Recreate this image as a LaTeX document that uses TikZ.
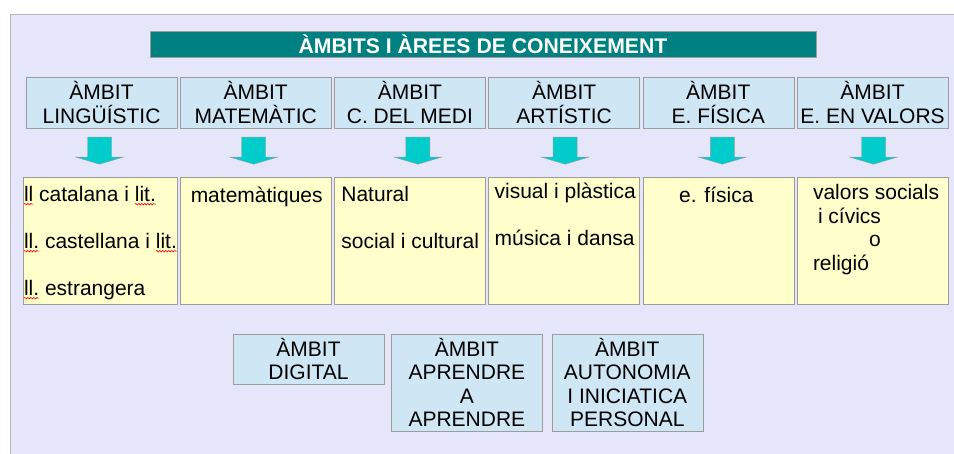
\documentclass[tikz,border=0pt]{standalone}
\usepackage{fontspec}
\setmainfont{Liberation Sans}
\usepackage{tikz}
\usetikzlibrary{shapes,arrows,positioning,decorations.pathmorphing}

\definecolor{panel}{HTML}{E6E6FA}
\definecolor{ambitblue}{HTML}{CFE6F4}
\definecolor{areayellow}{HTML}{FFFFCC}
\definecolor{titleteal}{HTML}{008080}
\definecolor{arrowcyan}{HTML}{00CCCC}
\definecolor{boxgrey}{HTML}{9C9C9C}

\newsavebox{\spellbox}
\newlength{\spellwd}
\newcommand{\spell}[1]{%
  \sbox{\spellbox}{#1}\setlength{\spellwd}{\wd\spellbox}%
  \rlap{\tikz[overlay]\draw[red, line width=.6pt, decorate, decoration={snake, amplitude=.8pt, segment length=3pt}] (0pt,-3pt) -- (\spellwd,-3pt);}%
  \usebox{\spellbox}}

\begin{document}
\begin{tikzpicture}[
    x=1pt, y=-1pt,
    titlebar/.style={rectangle, draw=boxgrey, fill=titleteal, text=white, font=\bfseries\fontsize{21.2}{24}\selectfont, minimum width=666pt, minimum height=26pt, inner sep=0pt},
    ambit/.style={rectangle, draw=boxgrey, fill=ambitblue, minimum width=151pt, minimum height=51pt, align=center, inner sep=0pt, font=\fontsize{21}{23.5}\selectfont},
    area/.style={rectangle, draw=boxgrey, fill=areayellow, minimum width=151pt, minimum height=127pt, inner sep=0pt},
    txt/.style={inner sep=0pt, align=left, anchor=base west, font=\fontsize{21}{23.5}\selectfont},
    downarrow/.pic={\draw[draw=boxgrey, fill=arrowcyan] (-12,0) -- (12,0) -- (12,20) -- (23.5,20) -- (0,27) -- (-23.5,20) -- (-12,20) -- cycle;}
]
    \useasboundingbox (0,0) rectangle (954,454);
    \draw[draw=gray!55, fill=panel] (10,14) rectangle (980,480);

    \node[titlebar] (title) at (483,44) {ÀMBITS I ÀREES DE CONEIXEMENT};

    \node[ambit] (ling) at (101.5,102.5) {ÀMBIT\\LINGÜÍSTIC};
    \node[ambit, right=2.8pt of ling] (mat) {ÀMBIT\\MATEMÀTIC};
    \node[ambit, right=2.8pt of mat] (medi) {ÀMBIT\\C. DEL MEDI};
    \node[ambit, right=2.8pt of medi] (art) {ÀMBIT\\ARTÍSTIC};
    \node[ambit, right=2.8pt of art] (fis) {ÀMBIT\\E. FÍSICA};
    \node[ambit, right=2.8pt of fis] (val) {ÀMBIT\\E. EN VALORS};

    \foreach \col/\dx in {ling/-2, mat/-2, medi/8, art/1, fis/4, val/1}
        \pic at ([shift={(\dx,9)}]\col.south) {downarrow};

    \node[area, minimum width=154pt, below=49pt of ling, xshift=-1.5pt] (lingA) {};
    \node[area, below=49pt of mat] (matA) {};
    \node[area, below=49pt of medi] (mediA) {};
    \node[area, below=49pt of art] (artA) {};
    \node[area, below=49pt of fis] (fisA) {};
    \node[area, below=49pt of val] (valA) {};

    % base anchor of a multi-line text is its last line
    \node[txt] (lingT) at ([shift={(1,118)}]lingA.north west)
        {\spell{ll} catalana i \spell{lit.}\\[23.5pt]\spell{ll.} castellana i \spell{lit.}\\[23.5pt]\spell{ll.} estrangera};
    \node[txt, anchor=base] (matT) at ([shift={(1,25)}]matA.north) {matemàtiques};
    \node[txt] (mediT) at ([shift={(7,71)}]mediA.north west) {Natural\\[23.5pt]social i cultural};
    \node[txt] (artT) at ([shift={(6,68)}]artA.north west) {visual i plàstica\\[23.5pt]música i dansa};
    \node[txt, anchor=base] (fisT) at ([shift={(-2,25)}]fisA.north) {e. física};
    \node[txt] (valT) at ([shift={(16,93)}]valA.north west)
        {valors socials\\\hspace*{5pt}i cívics\\\hspace*{56pt}o\\religió};

    \node[ambit, minimum height=50pt] (dig) at (308.5,359) {ÀMBIT\\DIGITAL};
    \node[ambit, minimum height=97pt, right=7pt of dig.north east, anchor=north west] (apr) {ÀMBIT\\APRENDRE\\A\\APRENDRE};
    \node[ambit, minimum height=97pt, right=9pt of apr] (auto) {ÀMBIT\\AUTONOMIA\\I INICIATICA\\PERSONAL};
\end{tikzpicture}
\end{document}
